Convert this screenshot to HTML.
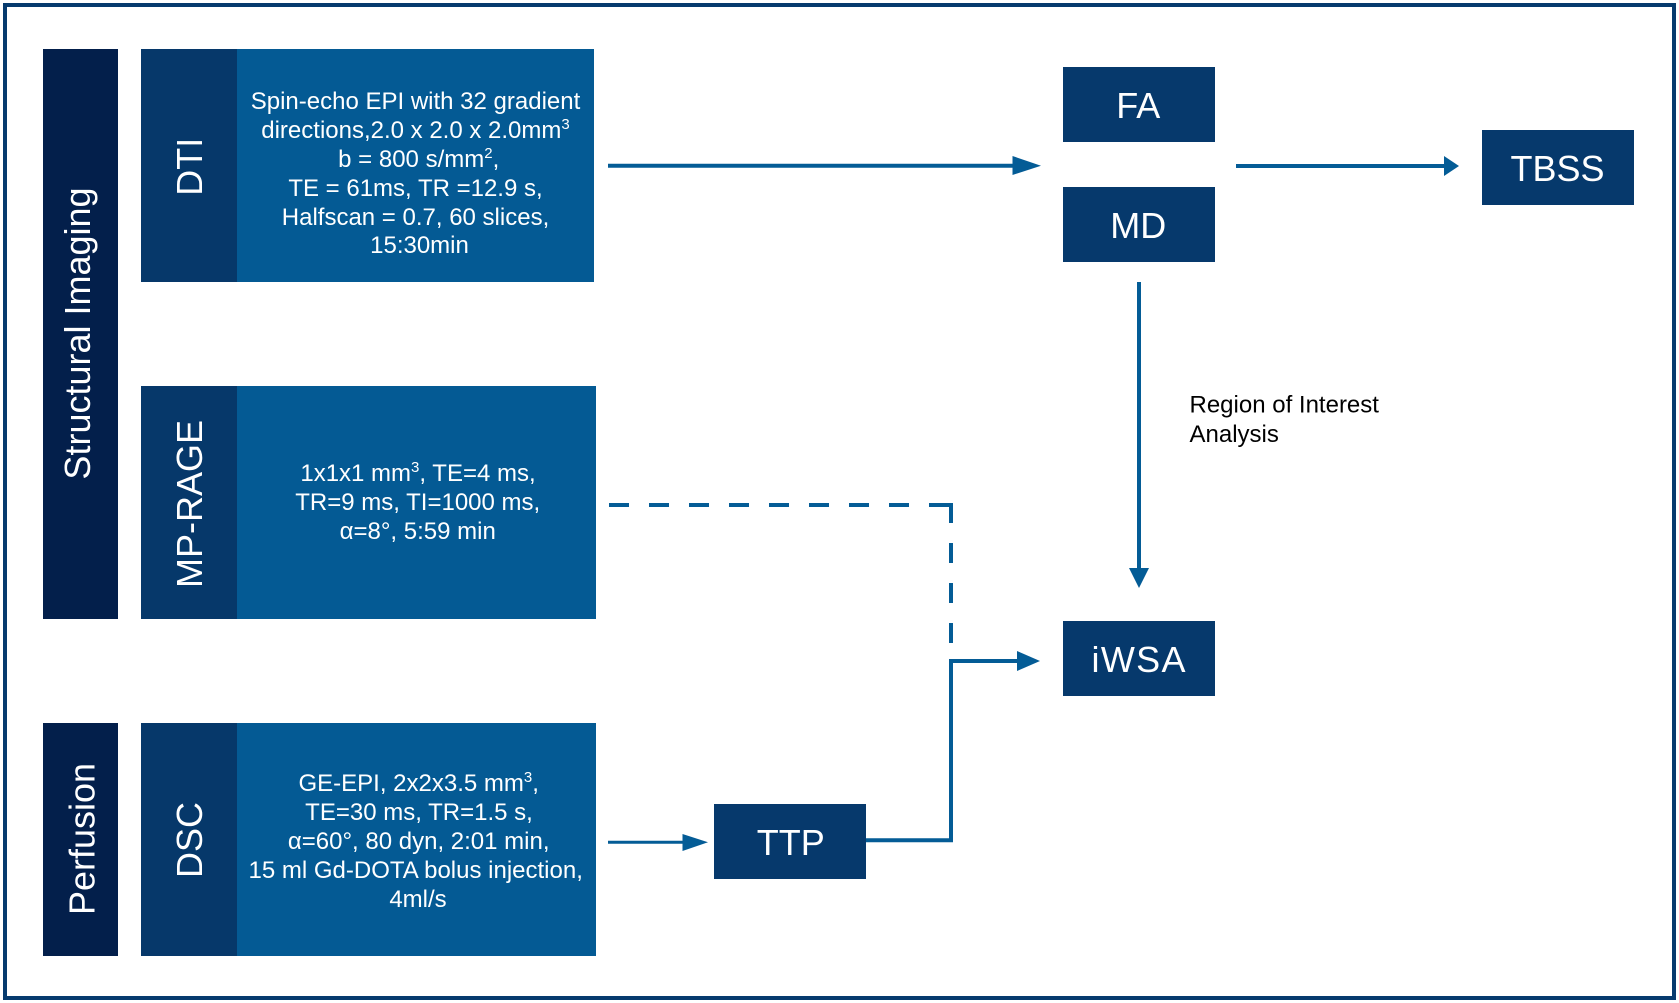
<!DOCTYPE html>
<html>
<head>
<meta charset="utf-8">
<style>
html,body{margin:0;padding:0;background:#fff;width:1679px;height:1003px;overflow:hidden}
svg{display:block}
text{font-family:"Liberation Sans",Arial,sans-serif}
.w{fill:#fff}
.c{text-anchor:middle}
.b{font-size:24px}
.l{font-size:36px}
</style>
</head>
<body>
<svg width="1679" height="1003" viewBox="0 0 1679 1003" xmlns="http://www.w3.org/2000/svg">
<rect x="0" y="0" width="1679" height="1003" fill="#fff"/>
<rect x="5" y="5" width="1669" height="993" fill="none" stroke="#063a6e" stroke-width="4"/>

<!-- Category bars -->
<rect x="43" y="49" width="75" height="570" fill="#031f4b"/>
<rect x="43" y="723" width="75" height="233" fill="#031f4b"/>

<!-- Sequence boxes -->
<rect x="141" y="49" width="96" height="233" fill="#06386a"/>
<rect x="237" y="49" width="357" height="233" fill="#045a94"/>
<rect x="141" y="386" width="96" height="233" fill="#06386a"/>
<rect x="237" y="386" width="359" height="233" fill="#045a94"/>
<rect x="141" y="723" width="96" height="233" fill="#06386a"/>
<rect x="237" y="723" width="359" height="233" fill="#045a94"/>

<!-- Output boxes -->
<rect x="1063" y="67" width="152" height="75" fill="#06396c"/>
<rect x="1063" y="187" width="152" height="75" fill="#06396c"/>
<rect x="1482" y="130" width="152" height="75" fill="#06396c"/>
<rect x="1063" y="621" width="152" height="75" fill="#06396c"/>
<rect x="714" y="804" width="152" height="75" fill="#06396c"/>

<!-- Connectors -->
<g fill="none" stroke="#045c96">
<line x1="608" y1="165.7" x2="1015" y2="165.7" stroke-width="4"/>
<line x1="1236" y1="166" x2="1446" y2="166" stroke-width="4"/>
<line x1="1139" y1="282" x2="1139" y2="570" stroke-width="4"/>
<line x1="608" y1="842.3" x2="685" y2="842.3" stroke-width="3"/>
<path d="M866 840.2H951V661H1019" stroke-width="4"/>
<path d="M609 505H929" stroke-width="4" stroke-dasharray="20 20"/>
<path d="M929 505H951V523" stroke-width="4"/>
<path d="M951 543V563M951 583V603M951 623V643" stroke-width="4"/>
</g>
<g fill="#045c96">
<polygon points="1012.5,156 1041,165.7 1012.5,175"/>
<polygon points="1444,156 1459,166 1444,176"/>
<polygon points="1129,568 1149,568 1139,588"/>
<polygon points="1017,651 1040,661 1017,671"/>
<polygon points="682.5,834 708,842.3 682.5,851"/>
</g>

<!-- Rotated labels -->
<text class="w c l" transform="translate(90,333.5) rotate(-90)">Structural Imaging</text>
<text class="w c l" transform="translate(94.5,839) rotate(-90)">Perfusion</text>
<text class="w c l" transform="translate(202,166.7) rotate(-90)">DTI</text>
<text class="w c l" transform="translate(202,504) rotate(-90)">MP-RAGE</text>
<text class="w c l" transform="translate(202,840) rotate(-90)">DSC</text>

<!-- DTI text -->
<text class="w c b" x="415.5" y="109">Spin-echo EPI with 32 gradient</text>
<text class="w c b" x="415.5" y="138">directions,2.0 x 2.0 x 2.0mm<tspan font-size="15" dy="-9">3</tspan></text>
<text class="w c b" x="418.7" y="167">b = 800 s/mm<tspan font-size="15" dy="-9">2</tspan><tspan dy="9">,</tspan></text>
<text class="w c b" x="415.5" y="196">TE = 61ms, TR =12.9 s,</text>
<text class="w c b" x="415.5" y="225">Halfscan = 0.7, 60 slices,</text>
<text class="w c b" x="419.5" y="253">15:30min</text>

<!-- MP-RAGE text -->
<text class="w c b" x="418" y="481">1x1x1 mm<tspan font-size="15" dy="-9">3</tspan><tspan dy="9">, TE=4 ms,</tspan></text>
<text class="w c b" x="417.7" y="510">TR=9 ms, TI=1000 ms,</text>
<text class="w c b" x="417.7" y="539">α=8°, 5:59 min</text>

<!-- DSC text -->
<text class="w c b" x="418.7" y="791">GE-EPI, 2x2x3.5 mm<tspan font-size="15" dy="-9">3</tspan><tspan dy="9">,</tspan></text>
<text class="w c b" x="419" y="820">TE=30 ms, TR=1.5 s,</text>
<text class="w c b" x="418.7" y="849">α=60°, 80 dyn, 2:01 min,</text>
<text class="w c b" x="415.7" y="878">15 ml Gd-DOTA bolus injection,</text>
<text class="w c b" x="418" y="907">4ml/s</text>

<!-- Output labels -->
<text class="w c l" x="1138.3" y="118">FA</text>
<text class="w c l" x="1138.3" y="238">MD</text>
<text class="w c l" x="1557.5" y="181">TBSS</text>
<text class="w c l" x="1138.5" y="672" textLength="94" lengthAdjust="spacing">iWSA</text>
<text class="w c l" x="790.8" y="855">TTP</text>

<!-- Annotation -->
<text class="b" x="1189.5" y="412.5" fill="#000">Region of Interest</text>
<text class="b" x="1189.5" y="442" fill="#000">Analysis</text>
</svg>
</body>
</html>
